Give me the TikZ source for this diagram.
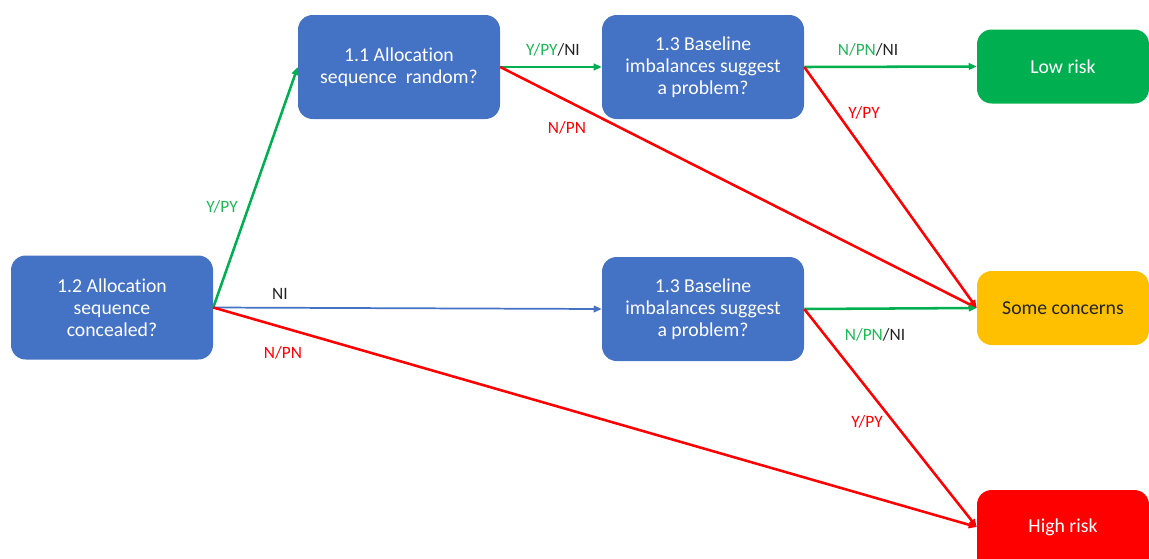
\documentclass[tikz,border=0pt]{standalone}
\usepackage{fontspec}
\setmainfont[Ligatures=NoCommon]{Carlito}
\usetikzlibrary{arrows.meta}
\definecolor{boxblue}{HTML}{4472C4}
\definecolor{okgreen}{HTML}{00B050}
\definecolor{warnyellow}{HTML}{FFC000}
\definecolor{badred}{HTML}{FF0000}
\definecolor{labgreen}{HTML}{1DB954}
\definecolor{labdark}{HTML}{222222}
\begin{document}
\begin{tikzpicture}[x=0.75pt,y=-0.75pt,
  question/.style={rounded corners=11pt, fill=boxblue, text=white,
    minimum width=151.5pt, minimum height=78pt, align=center,
    font=\fontsize{14.8}{16.5}\selectfont, inner sep=0pt},
  outcome/.style={rounded corners=11pt, minimum width=129pt,
    minimum height=55.5pt, align=center,
    font=\fontsize{14.8}{16.5}\selectfont, inner sep=0pt},
  conn/.style={line width=1.9pt, -{Triangle[length=6pt,width=5pt]}},
  lab/.style={font=\fontsize{13}{15}\selectfont, inner sep=0pt}]
\useasboundingbox (0,0) rectangle (1149,558);

% decision questions
\node[question] (q12) at (112,307.5) {1.2 Allocation\\sequence\\concealed?};
\node[question] (q11) at (399,67) {1.1 Allocation\\sequence\ \ random?};
\node[question] (q13a) at (703,67) {1.3 Baseline\\imbalances suggest\\a problem?};
\node[question] (q13b) at (703,309) {1.3 Baseline\\imbalances suggest\\a problem?};

% risk judgements (the high-risk box runs off the lower edge)
\node[outcome, fill=okgreen, text=white] (low) at (1063,66.5) {Low risk};
\node[outcome, fill=warnyellow, text=labdark] (some) at (1063,308) {Some concerns};
\node[outcome, fill=badred, text=white, minimum height=67.5pt] (high) at (1063,535)
  {\raisebox{6pt}[\height][\depth]{High risk}};

% connectors
\draw[conn, okgreen] (q12.east) -- (q11.west);
\draw[conn, boxblue, line width=1.3pt] (q12.east) -- (q13b.west);
\draw[conn, badred] (q12.east) -- ([yshift=6pt]high.west);
\draw[conn, okgreen] (q11.east) -- (q13a.west);
\draw[conn, badred] (q11.east) -- (some.west);
\draw[conn, okgreen] (q13a.east) -- (low.west);
\draw[conn, badred] (q13a.east) -- (some.west);
\draw[conn, okgreen] (q13b.east) -- (some.west);
\draw[conn, badred] (q13b.east) -- ([yshift=6pt]high.west);

% answer labels
\node[lab, text=labgreen] (l1) at (222,207) {Y/PY};
\node[lab, text=labdark] (l2) at (280,294) {NI};
\node[lab, text=badred] (l3) at (283,353) {N/PN};
\node[lab] (l4) at (553,50) {\textcolor{labgreen}{Y/PY}\textcolor{labdark}{/NI}};
\node[lab, text=badred] (l5) at (567,128) {N/PN};
\node[lab] (l6) at (868,50) {\textcolor{labgreen}{N/PN}\textcolor{labdark}{/NI}};
\node[lab, text=badred] (l7) at (864,113) {Y/PY};
\node[lab] (l8) at (875,335) {\textcolor{labgreen}{N/PN}\textcolor{labdark}{/NI}};
\node[lab, text=badred] (l9) at (867,422) {Y/PY};
\end{tikzpicture}
\end{document}
